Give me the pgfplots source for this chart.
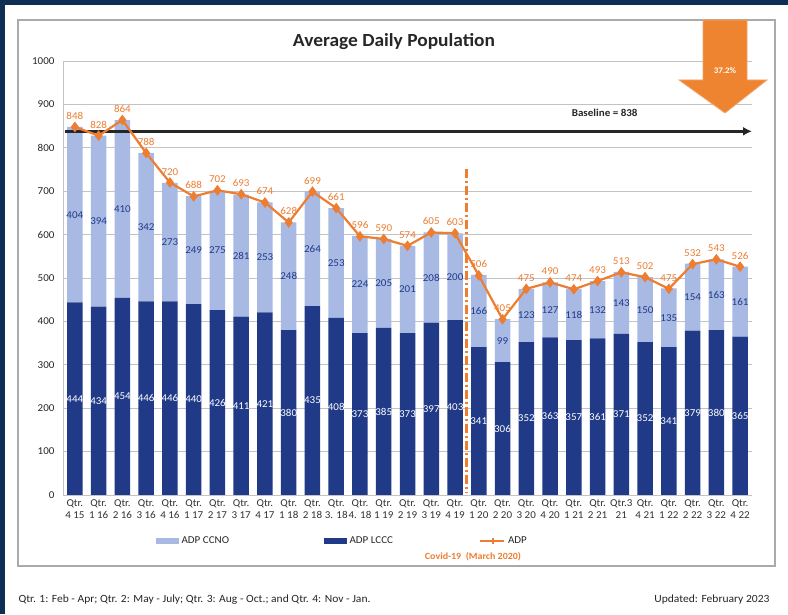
\documentclass[border=0pt]{standalone}
\usepackage{fontspec}
\setmainfont{Carlito}[FakeStretch=1.05]
\usepackage{pgfplots}
\pgfplotsset{compat=1.18}
\usepackage{pgfplotstable}
\usetikzlibrary{arrows.meta}
\definecolor{navyframe}{RGB}{14,46,86}
\definecolor{ccno}{RGB}{168,186,228}
\definecolor{lccc}{RGB}{32,58,135}
\definecolor{adp}{RGB}{237,125,49}
\definecolor{gridc}{RGB}{195,195,195}
\definecolor{boxc}{RGB}{170,170,170}

\pgfplotstableread{
x lccc ccno adp
0 444 404 848
1 434 394 828
2 454 410 864
3 446 342 788
4 446 273 720
5 440 249 688
6 426 275 702
7 411 281 693
8 421 253 674
9 380 248 628
10 435 264 699
11 408 253 661
12 373 224 596
13 385 205 590
14 373 201 574
15 397 208 605
16 403 200 603
17 341 166 506
18 306 99 405
19 352 123 475
20 363 127 490
21 357 118 474
22 361 132 493
23 371 143 513
24 352 150 502
25 341 135 475
26 379 154 532
27 380 163 543
28 365 161 526
}\data

\pgfplotsset{
  base/.style={
    at={(63pt,119pt)}, anchor=south west, scale only axis,
    width=689pt, height=434pt,
    xmin=-0.5, xmax=28.5, ymin=0, ymax=1000,
    /pgf/number format/assume math mode=true,
    /pgf/number format/1000 sep={},
  }
}

\begin{document}
\begin{tikzpicture}[x=1pt,y=1pt]
\fill[navyframe] (0,0) rectangle (788,614);
\fill[white] (5,0) rectangle (788,609);
\draw[boxc, line width=1.2pt] (18,48) rectangle (775,594);
\node[font=\fontsize{18.5}{20}\selectfont\bfseries, text=black!85] at (394,572) {Average Daily Population};

\begin{axis}[base,
  ybar stacked, bar width=15.5pt,
  ytick={0,100,...,1000},
  xtick={0,...,28},
  xticklabels={{Qtr.\\4 15},{Qtr.\\1 16},{Qtr.\\2 16},{Qtr.\\3 16},{Qtr.\\4 16},{Qtr.\\1 17},{Qtr.\\2 17},{Qtr.\\3 17},{Qtr.\\4 17},{Qtr.\\1 18},{Qtr.\\2 18},{Qtr.\\3. 18},{Qtr.\\4. 18},{Qtr.\\1 19},{Qtr.\\2 19},{Qtr.\\3 19},{Qtr.\\4 19},{Qtr.\\1 20},{Qtr.\\2 20},{Qtr.\\3 20},{Qtr.\\4 20},{Qtr.\\1 21},{Qtr.\\2 21},{Qtr.3\\21},{Qtr.\\4 21},{Qtr.\\1 22},{Qtr.\\2 22},{Qtr.\\3 22},{Qtr.\\4 22}},
  xticklabel style={align=center, font=\fontsize{10.5}{12.5}\selectfont, text=black!80, yshift=-1pt},
  yticklabel style={font=\fontsize{10.5}{12}\selectfont, text=black!85, xshift=-5pt},
  ymajorgrids, grid style={gridc, line width=0.7pt},
  axis x line*=bottom, axis y line*=left,
  axis line style={gridc, line width=0.8pt},
  tick style={draw=none},
  legend columns=3,
  legend style={at={(0.1306,-0.106)}, anchor=west, draw=none, fill=none,
    font=\fontsize{10.5}{12}\selectfont, text=black!85,
    /tikz/column 2/.style={column sep=93pt},
    /tikz/column 4/.style={column sep=84pt},
    /tikz/every odd column/.append style={column sep=1pt}},
]
\addlegendimage{legend image code/.code={\fill[ccno] (0pt,-2.5pt) rectangle (22pt,2.5pt);}}
\addlegendimage{legend image code/.code={\fill[lccc] (0pt,-2.5pt) rectangle (22pt,2.5pt);}}
\addlegendimage{legend image code/.code={\draw[adp, line width=2pt] (0pt,0pt) -- (24pt,0pt); \fill[adp] (12pt,-2.5pt) rectangle (13pt,2.5pt);}}
\addplot[fill=lccc, draw=none] table[x=x, y=lccc] {\data};
\addplot[fill=ccno, draw=none] table[x=x, y=ccno] {\data};
\legend{ADP CCNO, ADP LCCC, ADP}
\end{axis}

\begin{axis}[base, axis lines=none, clip=false,
  every node near coord/.append style={font=\fontsize{10.5}{12}\selectfont}]
\draw[adp, line width=3pt, dash pattern=on 9pt off 3pt on 2pt off 3pt] (axis cs:16.5,752) -- (axis cs:16.5,4);
\draw[-{Latex[length=9pt,width=9pt]}, line width=2.6pt, black!85] (axis cs:-0.4,838) -- (axis cs:28.5,838);
\node[font=\fontsize{10.5}{12}\selectfont\bfseries, text=black!85] at (axis cs:22.3,880) {Baseline = 838};
\addplot[draw=none, nodes near coords, point meta=explicit,
  every node near coord/.append style={anchor=center, text=white}]
  table[x=x, y expr=\thisrow{lccc}/2, meta=lccc] {\data};
\addplot[draw=none, nodes near coords, point meta=explicit,
  every node near coord/.append style={anchor=center, text=lccc}]
  table[x=x, y expr=\thisrow{lccc}+\thisrow{ccno}/2, meta=ccno] {\data};
\addplot[adp, line width=2.2pt, mark=diamond*, mark size=3.6pt,
  nodes near coords, point meta=explicit,
  every node near coord/.append style={anchor=south, text=adp, yshift=3pt}]
  table[x=x, y=adp, meta=adp] {\data};
\end{axis}

\fill[adp!95!yellow, draw=adp!70!white, line width=0.8pt]
  (703,594) -- (747,594) -- (747,534) -- (767,534) -- (725,501) -- (679,534) -- (703,534) -- cycle;
\node[font=\fontsize{8.5}{10}\selectfont\bfseries, text=white] at (725,543) {37.2\%};

\node[font=\fontsize{9.5}{11}\selectfont\bfseries, text=adp] at (473,57) {Covid-19\ \ (March 2020)};
\node[anchor=west, font=\fontsize{11}{13}\selectfont, text=black!85] at (15,14) {Qtr. 1: Feb - Apr; Qtr. 2: May - July; Qtr. 3: Aug - Oct.; and Qtr. 4: Nov - Jan.};
\node[anchor=east, font=\fontsize{11}{13}\selectfont, text=black!85] at (773,14) {Updated: February 2023};
\end{tikzpicture}
\end{document}
